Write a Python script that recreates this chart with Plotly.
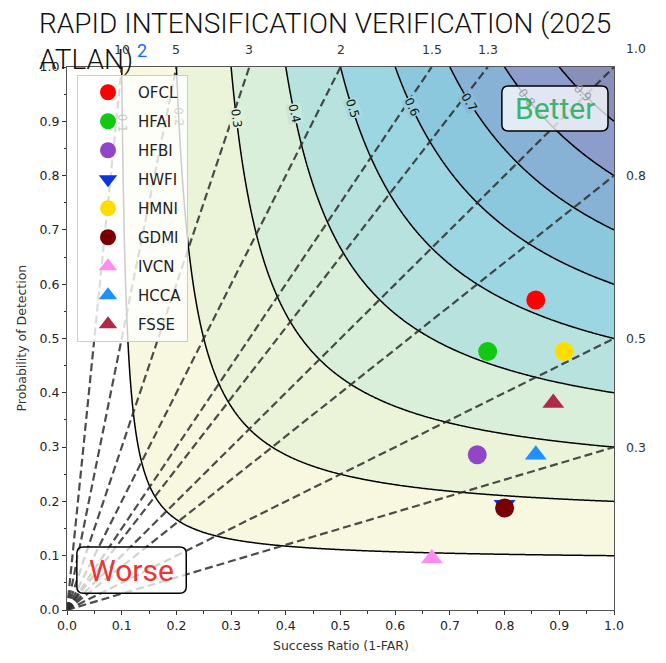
import numpy as np
import plotly.graph_objects as go

# ---------------- data ----------------
models = ["OFCL", "HFAI", "HFBI", "HWFI", "HMNI", "GDMI", "IVCN", "HCCA", "FSSE"]
success_ratio = [0.857, 0.769, 0.750, 0.800, 0.909, 0.800, 0.667, 0.857, 0.889]
prob_detection = [0.571, 0.476, 0.286, 0.194, 0.476, 0.188, 0.095, 0.286, 0.381]
marker_colors = ["#ff0000", "#12c912", "#9146c8", "#0a35e0", "#ffdd00",
                 "#780000", "#ff8cf0", "#1e90ff", "#b02a48"]
marker_symbols = ["circle", "circle", "circle", "triangle-down", "circle",
                  "circle", "triangle-up", "triangle-up", "triangle-up"]

csi_levels = [0.1, 0.2, 0.3, 0.4, 0.5, 0.6, 0.7, 0.8, 0.9]
csi_label_text = ["0.1", "0.2", "0.3", "0.4", "0.5", "0.6", "0.7", "0.8", "0.9"]
csi_label_pod = [0.897, 0.908, 0.906, 0.915, 0.924, 0.926, 0.936, 0.943, 0.952]
csi_label_color = ["#c8c8c8", "#d4d4d4", "#111111", "#111111", "#111111",
                   "#111111", "#111111", "#9a9aa8", "#9a9aa8"]
band_colors = ["#ffffff", "#f8f8e0", "#ebf4d9", "#d9efd9", "#b8e2dd",
               "#9cd6e2", "#8bc7dd", "#88b2d5", "#8c9dcb", "#8790b6"]

bias_values = [10, 5, 3, 2, 1.5, 1.3, 1.0, 0.8, 0.5, 0.3]
bias_labels = ["10", "5", "3", "2", "1.5", "1.3", "1.0", "0.8", "0.5", "0.3"]

x_ticks = [0.0, 0.1, 0.2, 0.3, 0.4, 0.5, 0.6, 0.7, 0.8, 0.9, 1.0]
x_tick_labels = ["0.0", "0.1", "0.2", "0.3", "0.4", "0.5", "0.6", "0.7", "0.8", "0.9", "1.0"]

title_text = "RAPID INTENSIFICATION VERIFICATION (2025<br>ATLAN)"

# ---------------- figure ----------------
W, H = 666, 663
ML, MR, MT, MB = 67, 52, 67, 53
pw, ph = W - ML - MR, H - MT - MB

fig = go.Figure()

# CSI background
g = np.linspace(0.001, 1.0, 400)
SRg, PODg = np.meshgrid(g, g)
CSI = 1.0 / (1.0 / SRg + 1.0 / PODg - 1.0)
cscale = []
for i, c in enumerate(band_colors):
    cscale.append([i / 10, c])
    cscale.append([(i + 1) / 10, c])
fig.add_trace(go.Contour(
    x=g, y=g, z=CSI, zmin=0, zmax=1, colorscale=cscale, showscale=False,
    contours=dict(start=csi_levels[0], end=csi_levels[-1], size=0.1,
                  coloring="fill", showlines=True),
    line=dict(color="black", width=1.5, smoothing=1),
    hoverinfo="skip", showlegend=False))

# bias lines
for b in bias_values:
    xe = 1.0 / b if b >= 1 else 1.0
    ye = 1.0 if b >= 1 else b
    fig.add_trace(go.Scatter(
        x=[0, xe], y=[0, ye], mode="lines",
        line=dict(color="rgba(45,45,45,0.85)", width=2.2, dash="8px,4px"),
        hoverinfo="skip", showlegend=False))

# model markers
for i, m in enumerate(models):
    fig.add_trace(go.Scatter(
        x=[success_ratio[i]], y=[prob_detection[i]], mode="markers", name=m,
        legendgroup=m,
        marker=dict(color=marker_colors[i], symbol=marker_symbols[i], size=19,
                    line=dict(width=0))))

annotations = []
# title
annotations.append(dict(
    text=title_text, xref="paper", yref="paper",
    x=(37 - ML) / pw, y=(MT + ph - 5) / ph, xanchor="left", yanchor="top",
    align="left", showarrow=False,
    font=dict(family="Roboto", size=28, weight=300, color="#111")))

# axis titles
annotations.append(dict(text="Success Ratio (1-FAR)", xref="paper", yref="paper",
                        x=0.5, y=-(645 - (MT + ph)) / ph, xanchor="center",
                        yanchor="middle", showarrow=False,
                        font=dict(family="DejaVu Sans", size=12.5, color="#333")))
annotations.append(dict(text="Probability of Detection", xref="paper", yref="paper",
                        x=(21 - ML) / pw, y=0.5, xanchor="center", yanchor="middle",
                        textangle=-90, showarrow=False,
                        font=dict(family="DejaVu Sans", size=12.5, color="#333")))

# bias labels
lab_font = dict(family="DejaVu Sans", size=12.5, color="#333")
for b, lab in zip(bias_values, bias_labels):
    if b > 1:
        annotations.append(dict(text=lab, x=1.0 / b, xref="x", y=1.0, yref="paper",
                                xanchor="center", yanchor="middle",
                                yshift=18, showarrow=False, font=lab_font))
    elif b == 1:
        annotations.append(dict(text=lab, x=1.0, xref="x", y=1.0, yref="paper",
                                xanchor="center", yanchor="middle",
                                xshift=22, yshift=19, showarrow=False, font=lab_font))
    else:
        annotations.append(dict(text=lab, x=1.0, xref="paper", y=b, yref="y",
                                xanchor="center", yanchor="middle",
                                xshift=22, showarrow=False, font=lab_font))
# stray blue label
annotations.append(dict(text="2", x=(142 - ML) / pw, xref="x", y=1.0, yref="paper",
                        xanchor="center", yanchor="middle",
                        yshift=17, showarrow=False,
                        font=dict(family="Roboto", size=18, color="#1a66ff")))

# CSI labels
def mix(c1, c2):
    a = [int(c1[k:k + 2], 16) for k in (1, 3, 5)]
    b = [int(c2[k:k + 2], 16) for k in (1, 3, 5)]
    return "#" + "".join("%02x" % ((p + q) // 2) for p, q in zip(a, b))

for i, (lev, lab, pv) in enumerate(zip(csi_levels, csi_label_text, csi_label_pod)):
    sr = 1.0 / (1.0 / lev + 1.0 - 1.0 / pv)
    slope = (pv / sr) ** 2 * (ph / pw)
    ang = float(np.degrees(np.arctan(slope)))
    bg = mix(band_colors[i], band_colors[i + 1])
    if i in (0, 1, 7, 8):
        bg = "rgba(0,0,0,0)"
    annotations.append(dict(text=lab, x=sr, y=pv, xref="x", yref="y",
                            textangle=ang, showarrow=False, bgcolor=bg, borderpad=0,
                            font=dict(family="DejaVu Sans", size=12,
                                      color=csi_label_color[i])))

# Better / Worse boxes
def rounded(x0, y0, x1, y1, rx=0.012, ry=0.012):
    return (f"M {x0+rx},{y0} L {x1-rx},{y0} Q {x1},{y0} {x1},{y0+ry} "
            f"L {x1},{y1-ry} Q {x1},{y1} {x1-rx},{y1} L {x0+rx},{y1} "
            f"Q {x0},{y1} {x0},{y1-ry} L {x0},{y0+ry} Q {x0},{y0} {x0+rx},{y0} Z")

shapes = [
    dict(type="path", path=rounded(0.795, 0.882, 0.989, 0.965), xref="x", yref="y",
         fillcolor="rgba(255,255,255,0.75)", line=dict(color="black", width=1.5),
         layer="above"),
    dict(type="path", path=rounded(0.018, 0.031, 0.218, 0.116), xref="x", yref="y",
         fillcolor="rgba(255,255,255,0.75)", line=dict(color="black", width=1.5),
         layer="above"),
]
annotations.append(dict(text="Better", x=0.892, y=0.9235, xref="x", yref="y",
                        showarrow=False,
                        font=dict(family="Roboto", size=30, color="#3cb371")))
annotations.append(dict(text="Worse", x=0.118, y=0.0735, xref="x", yref="y",
                        showarrow=False,
                        font=dict(family="Roboto", size=30, color="#ee3333")))

axis_common = dict(range=[0, 1], tickvals=x_ticks, ticktext=x_tick_labels,
                   ticks="outside", ticklen=4, tickwidth=1, tickcolor="#333",
                   minor=dict(dtick=0.05, ticks="outside", ticklen=2.5, tickcolor="#333"),
                   showline=True, linecolor="#555", linewidth=1, mirror=True,
                   showgrid=False, zeroline=False,
                   tickfont=dict(family="DejaVu Sans", size=12.5, color="#222"))

fig.update_layout(
    width=W, height=H,
    margin=dict(l=ML, r=MR, t=MT, b=MB),
    paper_bgcolor="white", plot_bgcolor="white",
    xaxis=axis_common, yaxis=axis_common,
    showlegend=True,
    legend=dict(x=(77 - ML) / pw, y=(MT + ph - 75) / ph, xanchor="left", yanchor="top",
                bgcolor="rgba(255,255,255,0.8)", bordercolor="#cccccc", borderwidth=1,
                font=dict(family="DejaVu Sans", size=15, color="#222"),
                itemwidth=50, tracegroupgap=6.5, entrywidth=125,
                entrywidthmode="pixels"),
    annotations=annotations, shapes=shapes,
)

fig.write_html("out.html", config={"displayModeBar": False},
               post_script="document.body.style.margin='0px';")
